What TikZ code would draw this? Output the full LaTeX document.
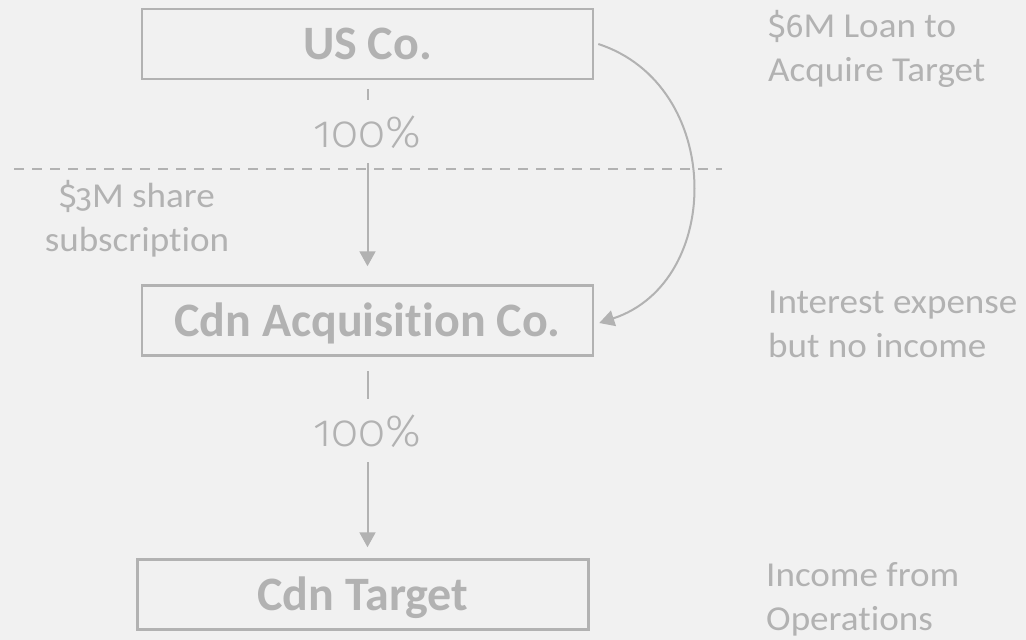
\documentclass[tikz,border=0pt]{standalone}
\usepackage{fontspec}
\setmainfont{Carlito}[Ligatures=NoCommon]
\newfontfamily\sidefont{Carlito}[Ligatures=NoCommon,FakeStretch=1.06]
\newfontfamily\numfont{Fira Sans Light}[Numbers=OldStyle]
\newfontfamily\notenumfont{Fira Sans}[Numbers=OldStyle]
\usetikzlibrary{arrows.meta}
\definecolor{bgc}{RGB}{241,241,241}
\definecolor{fgc}{RGB}{178,178,178}
\tikzset{
  entity/.style={draw=fgc, line width=2.5pt, minimum width=451pt, minimum height=70pt,
    inner sep=0pt, text=fgc, font=\fontsize{48}{56}\selectfont\bfseries,
    text height=41pt, text depth=10pt},
  own/.style={draw=fgc, line width=2pt, -{Triangle[width=16pt,length=15pt]}},
  pct/.style={fill=bgc, text=fgc, inner sep=0pt, minimum width=130pt, minimum height=63pt,
    font=\numfont\fontsize{45}{56}\selectfont, text height=32pt, text depth=0pt},
  note/.style={text=fgc, inner sep=0pt, align=left,
    font=\sidefont\fontsize{35}{44}\selectfont},
  divider/.style={draw=fgc, line width=2pt, dash pattern=on 10pt off 8pt}
}
\newcommand{\oldnum}[1]{{\notenumfont\fontsize{33}{44}\selectfont #1}}
\begin{document}
\begin{tikzpicture}[x=1pt,y=-1pt]
  % canvas
  \fill[bgc] (0,0) rectangle (1026,640);
  \useasboundingbox (0,0) rectangle (1026,640);

  % border between the two countries
  \coordinate (dl) at (14,169);
  \coordinate (dr) at (722,169);
  \path[divider] (dl) -- (dr);

  % companies
  \node[entity] (us)  at (367.5,44)    {US Co.};
  \node[entity] (acq) at (367.5,320.5) {Cdn Acquisition Co.};
  \node[entity] (tgt) at (363,594.5)   {Cdn Target};

  % ownership links
  \path[own, shorten <=9pt, shorten >=18pt] (us.south) -- (acq.north)
    node[pct, pos=0.252] (p1) {100\%};
  \path[own, shorten <=14pt, shorten >=11pt] (acq.south) -- ([xshift=4.5pt]tgt.north)
    node[pct, pos=0.365] (p2) {100\%};

  % intercompany loan
  \path[own] ([xshift=4pt]us.east) .. controls (724,85) and (724,282) .. ([xshift=5pt,yshift=-2.5pt]acq.east);

  % notes
  \node[note, anchor=west] (n1) at (768,49)  {\oldnum{\$6}M Loan to\\Acquire Target};
  \node[note, anchor=west] (n2) at (768,324) {Interest expense\\but no income};
  \node[note, anchor=west] (n3) at (766,599) {Income from\\Operations};
  \node[note, align=center] (n4) at (137,219) {\oldnum{\$3}M share\\subscription};
\end{tikzpicture}
\end{document}
